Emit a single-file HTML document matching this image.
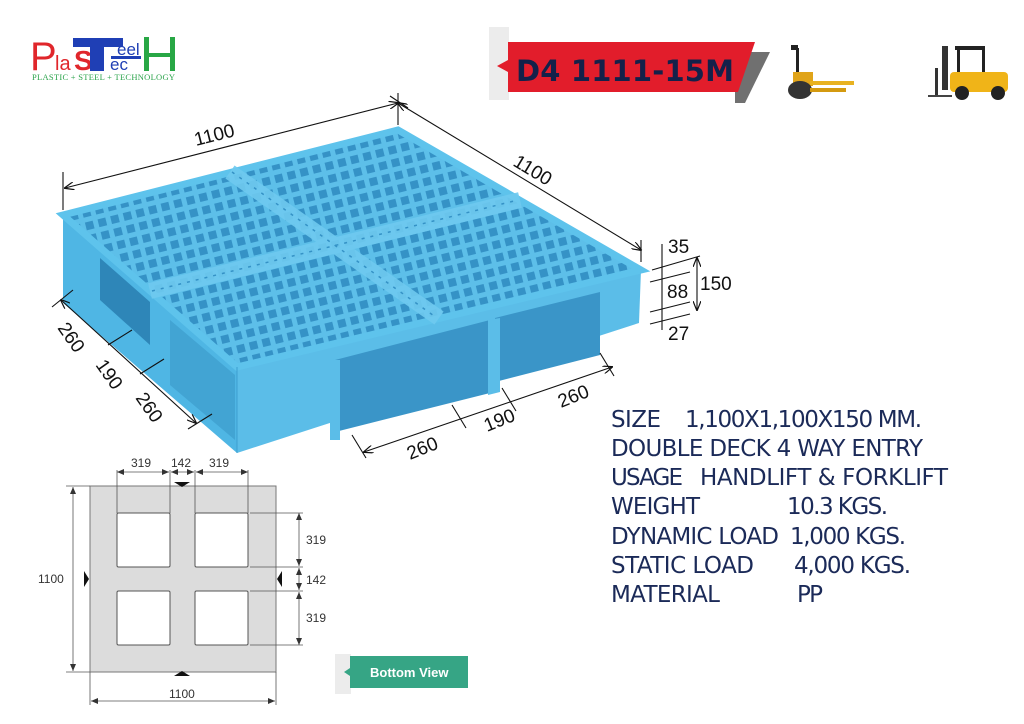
<!DOCTYPE html>
<html><head><meta charset="utf-8"><style>
html,body{margin:0;padding:0;background:#fff;width:1024px;height:724px;overflow:hidden}
svg{display:block}
</style></head><body>
<svg width="1024" height="724" viewBox="0 0 1024 724" xmlns="http://www.w3.org/2000/svg" font-family="Liberation Sans, sans-serif">
<defs>
<pattern id="grid" width="13" height="13" patternUnits="userSpaceOnUse" patternTransform="rotate(-14)">
<rect width="13" height="13" fill="#5dbfe9"/>
<rect x="2.5" y="2.5" width="8" height="8" fill="#3592c6"/>
</pattern>
<marker id="ar" markerWidth="10" markerHeight="8" refX="9" refY="4" orient="auto-start-reverse" markerUnits="userSpaceOnUse"><path d="M0,0 L10,4 L0,8" fill="none" stroke="#111" stroke-width="1.2"/></marker>
<marker id="ar2" markerWidth="7" markerHeight="6" refX="7" refY="3" orient="auto-start-reverse" markerUnits="userSpaceOnUse"><path d="M0,0 L7,3 L0,6z" fill="#333"/></marker>
</defs>

<!-- Logo -->
<text x="30" y="70" font-size="40" fill="#e0262b">P</text>
<text x="55" y="70" font-size="20" fill="#e0262b">la</text>
<text x="74" y="70" font-size="28" fill="#e0262b" font-weight="bold">S</text>
<rect x="73" y="38" width="50" height="9" fill="#1f3fb5"/>
<rect x="90" y="38" width="14" height="33" fill="#1f3fb5"/>
<text x="117" y="55" font-size="17" fill="#1f3fb5">eel</text>
<text x="110" y="70" font-size="17" fill="#1f3fb5">ec</text>
<rect x="111" y="56" width="30" height="3" fill="#1f3fb5"/>
<rect x="144" y="37" width="5" height="34" fill="#28a745"/>
<rect x="170" y="37" width="5" height="34" fill="#28a745"/>
<rect x="148" y="53" width="24" height="4" fill="#28a745"/>
<text x="32" y="80" font-size="8.5" fill="#2aa34a" font-family="Liberation Serif, serif" textLength="143">PLASTIC + STEEL + TECHNOLOGY</text>

<!-- Title banner -->
<rect x="489" y="27" width="20" height="73" fill="#ececec"/>
<polygon points="735,52 770,52 745,103 735,103" fill="#707070"/>
<polygon points="508,42 755,42 738,92 508,92 508,72 497,66 508,60" fill="#e21d2b"/>
<text x="516" y="81" font-size="29" font-weight="bold" fill="#14214a" textLength="218" font-family="DejaVu Sans, sans-serif">D4 1111-15M</text>

<!-- hand pallet truck -->
<g>
<rect x="791" y="45" width="7" height="5" fill="#222"/>
<rect x="796" y="48" width="3" height="28" fill="#222"/>
<rect x="793" y="72" width="20" height="14" fill="#e0a41a"/>
<ellipse cx="800" cy="90" rx="12" ry="9" fill="#333"/>
<rect x="810" y="81" width="44" height="4" fill="#e8b220"/>
<rect x="810" y="88" width="36" height="4" fill="#d49a10"/>
</g>
<!-- forklift -->
<g>
<rect x="935" y="68" width="3" height="28" fill="#333"/>
<rect x="942" y="46" width="6" height="44" fill="#333"/>
<rect x="955" y="46" width="30" height="4" fill="#222"/>
<rect x="957" y="48" width="3" height="30" fill="#222"/>
<rect x="982" y="48" width="3" height="28" fill="#222"/>
<rect x="950" y="72" width="58" height="20" rx="4" fill="#f0b418"/>
<circle cx="962" cy="93" r="7" fill="#222"/>
<circle cx="998" cy="93" r="7" fill="#222"/>
<rect x="928" y="95" width="24" height="2" fill="#444"/>
</g>

<!-- Pallet -->
<g>
<polygon points="63,215 237,367 237,453 63,303" fill="#4fb6e4"/>
<polygon points="237,367 641,270 639,323 237,453" fill="#5bbde8"/>
<polygon points="63,215 398,130 641,270 237,367" fill="url(#grid)" stroke="#5ec3ec" stroke-width="7"/>
<g stroke="#6fcaf0" stroke-width="16" stroke-linecap="butt" opacity="0.9">
<line x1="150" y1="291" x2="520" y2="200"/>
<line x1="230" y1="172" x2="439" y2="318"/>
</g>
<g stroke="#3592c6" stroke-width="1.5" stroke-dasharray="3 6">
<line x1="152" y1="291" x2="518" y2="200"/>
<line x1="232" y1="172" x2="437" y2="318"/>
</g>
<!-- openings left face -->
<polygon points="100,258 150,302 150,345 100,300" fill="#2e86b8"/>
<polygon points="170,320 235,375 235,440 170,385" fill="#3591c2" opacity="0.5"/>
<!-- openings right face -->
<polygon points="335,360 490,320 490,393 335,432" fill="#3a95c8"/>
<polygon points="495,318 600,292 600,355 495,382" fill="#3a95c8"/>
<rect x="330" y="360" width="10" height="80" fill="#5bbde8"/>
<polygon points="488,320 500,318 500,392 488,395" fill="#5bbde8"/>
<line x1="237" y1="367" x2="237" y2="453" stroke="#3c9fd0" stroke-width="1"/>
</g>

<!-- Pallet dimensions -->
<g stroke="#111" stroke-width="1.1" fill="none">
<line x1="65" y1="188" x2="398" y2="103" marker-start="url(#ar)" marker-end="url(#ar)"/>
<line x1="63" y1="172" x2="63" y2="210"/>
<line x1="398" y1="93" x2="398" y2="125"/>
<line x1="390" y1="96" x2="408" y2="108"/>
<line x1="398" y1="103" x2="641" y2="250" marker-start="url(#ar)" marker-end="url(#ar)"/>
<line x1="641" y1="240" x2="641" y2="262"/>
<line x1="61" y1="300" x2="196" y2="423" marker-start="url(#ar)" marker-end="url(#ar)"/>
<line x1="52" y1="307" x2="73" y2="290"/>
<line x1="108" y1="345" x2="132" y2="330"/>
<line x1="140" y1="374" x2="164" y2="359"/>
<line x1="188" y1="429" x2="212" y2="414"/>
<line x1="364" y1="452" x2="612" y2="367" marker-start="url(#ar)" marker-end="url(#ar)"/>
<line x1="352" y1="435" x2="366" y2="458"/>
<line x1="452" y1="405" x2="466" y2="428"/>
<line x1="502" y1="388" x2="516" y2="411"/>
<line x1="600" y1="353" x2="614" y2="376"/>
<line x1="652" y1="270" x2="700" y2="256"/>
<line x1="650" y1="282" x2="690" y2="272"/>
<line x1="650" y1="312" x2="690" y2="302"/>
<line x1="650" y1="324" x2="690" y2="314"/>
<line x1="662" y1="244" x2="662" y2="330"/>
<line x1="697" y1="258" x2="697" y2="310" marker-start="url(#ar)" marker-end="url(#ar)"/>
</g>
<g font-size="19" fill="#111">
<text transform="translate(196,146) rotate(-14)">1100</text>
<text transform="translate(512,165) rotate(31)">1100</text>
<text x="668" y="253">35</text>
<text x="667" y="298">88</text>
<text x="700" y="290">150</text>
<text x="668" y="340">27</text>
<text transform="translate(57,328) rotate(55)">260</text>
<text transform="translate(95,365) rotate(55)">190</text>
<text transform="translate(135,398) rotate(55)">260</text>
<text transform="translate(410,460) rotate(-22)">260</text>
<text transform="translate(487,432) rotate(-22)">190</text>
<text transform="translate(561,408) rotate(-22)">260</text>
</g>

<!-- Spec text -->
<g font-size="23" fill="#1b2a58" font-family="DejaVu Sans, sans-serif">
<text x="611" y="427" textLength="50">SIZE</text><text x="685" y="427" textLength="237">1,100X1,100X150 MM.</text>
<text x="611" y="456" textLength="312">DOUBLE DECK 4 WAY ENTRY</text>
<text x="611" y="485" textLength="72">USAGE</text><text x="700" y="485" textLength="248">HANDLIFT &amp; FORKLIFT</text>
<text x="611" y="514" textLength="89">WEIGHT</text><text x="787" y="514" textLength="101">10.3 KGS.</text>
<text x="611" y="544" textLength="168">DYNAMIC LOAD</text><text x="790" y="544" textLength="116">1,000 KGS.</text>
<text x="611" y="573" textLength="143">STATIC LOAD</text><text x="794" y="573" textLength="117">4,000 KGS.</text>
<text x="611" y="602" textLength="109">MATERIAL</text><text x="797" y="602" textLength="26">PP</text>
</g>

<!-- Bottom view -->
<g>
<rect x="90" y="486" width="186" height="186" fill="#dcdcdc" stroke="#777" stroke-width="1"/>
<g fill="#fff" stroke="#555" stroke-width="1">
<rect x="117" y="513" width="53" height="54" rx="1.5"/>
<rect x="195" y="513" width="53" height="54" rx="1.5"/>
<rect x="117" y="591" width="53" height="54" rx="1.5"/>
<rect x="195" y="591" width="53" height="54" rx="1.5"/>
</g>
<g stroke="#555" stroke-width="0.8" fill="none">
<line x1="117" y1="470" x2="117" y2="513"/><line x1="170" y1="470" x2="170" y2="513"/>
<line x1="195" y1="470" x2="195" y2="513"/><line x1="248" y1="470" x2="248" y2="513"/>
<line x1="117" y1="472" x2="169" y2="472" marker-start="url(#ar2)" marker-end="url(#ar2)"/>
<line x1="171" y1="472" x2="194" y2="472" marker-start="url(#ar2)" marker-end="url(#ar2)"/>
<line x1="196" y1="472" x2="248" y2="472" marker-start="url(#ar2)" marker-end="url(#ar2)"/>
<line x1="250" y1="513" x2="303" y2="513"/><line x1="250" y1="567" x2="303" y2="567"/>
<line x1="250" y1="591" x2="303" y2="591"/><line x1="250" y1="645" x2="303" y2="645"/>
<line x1="299" y1="513" x2="299" y2="566" marker-start="url(#ar2)" marker-end="url(#ar2)"/>
<line x1="299" y1="568" x2="299" y2="590" marker-start="url(#ar2)" marker-end="url(#ar2)"/>
<line x1="299" y1="592" x2="299" y2="645" marker-start="url(#ar2)" marker-end="url(#ar2)"/>
<line x1="66" y1="486" x2="90" y2="486"/><line x1="66" y1="672" x2="90" y2="672"/>
<line x1="73" y1="487" x2="73" y2="671" marker-start="url(#ar2)" marker-end="url(#ar2)"/>
<line x1="90" y1="672" x2="90" y2="705"/><line x1="276" y1="672" x2="276" y2="705"/>
<line x1="91" y1="701" x2="275" y2="701" marker-start="url(#ar2)" marker-end="url(#ar2)"/>
</g>
<g fill="#111">
<polygon points="174,482 190,482 182,487"/>
<polygon points="174,676 190,676 182,671"/>
<polygon points="84,571 84,587 89,579"/>
<polygon points="282,571 282,587 277,579"/>
</g>
<g font-size="12" fill="#333">
<text x="131" y="467">319</text><text x="171" y="467">142</text><text x="209" y="467">319</text>
<text x="306" y="544">319</text><text x="306" y="584">142</text><text x="306" y="622">319</text>
<text x="38" y="583">1100</text><text x="169" y="698">1100</text>
</g>
</g>

<!-- Bottom View tag -->
<rect x="335" y="654" width="16" height="40" fill="#ececec"/>
<polygon points="350,656 468,656 468,688 350,688 350,676 344,672 350,668" fill="#36a585"/>
<text x="370" y="677" font-size="13" font-weight="bold" fill="#fff">Bottom View</text>
</svg>
</body></html>
